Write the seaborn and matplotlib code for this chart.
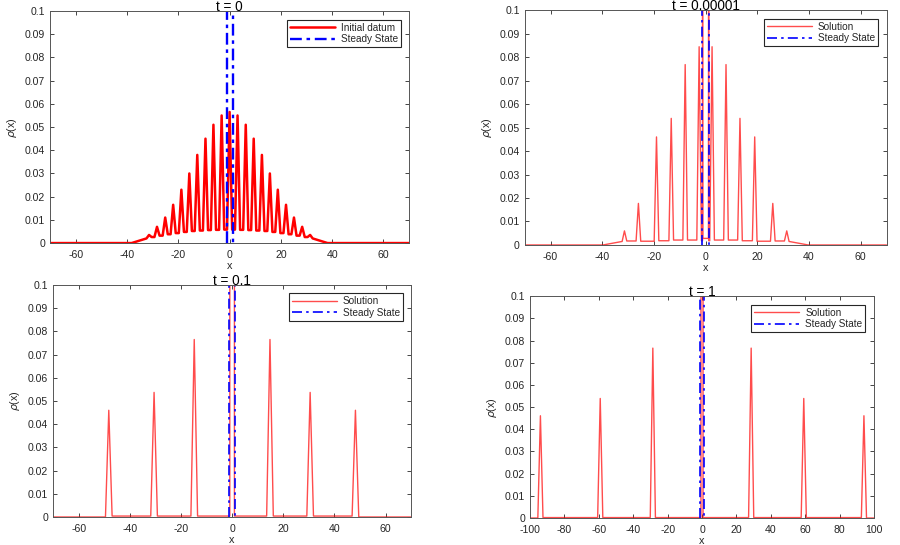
import matplotlib
matplotlib.use("Agg")
import matplotlib.pyplot as plt
import matplotlib.ticker as ticker
import seaborn as sns

sns.set_theme(style="ticks")
plt.rcParams["font.family"] = ["Liberation Sans", "DejaVu Sans"]
plt.rcParams["axes.unicode_minus"] = False

# ---- t = 0 : initial datum (peak centres, peak heights, level of the valleys between peaks)
init_peak_x = [-31.4, -28.3, -25.1, -22.0, -18.8, -15.7, -12.6, -9.4, -6.3, -3.1, 0.0,
               3.1, 6.3, 9.4, 12.6, 15.7, 18.8, 22.0, 25.1, 28.3, 31.4]
init_peak_y = [0.0035, 0.007, 0.011, 0.0165, 0.023, 0.030, 0.038, 0.045, 0.051, 0.055, 0.0565,
               0.055, 0.051, 0.045, 0.038, 0.030, 0.023, 0.0165, 0.011, 0.007, 0.0035]
init_valley_y = [0.0026, 0.0032, 0.0038, 0.0043, 0.0048, 0.0052, 0.0054, 0.0056, 0.0057, 0.0058,
                 0.0058, 0.0057, 0.0056, 0.0054, 0.0052, 0.0048, 0.0043, 0.0038, 0.0032, 0.0026]
init_edge_y = 0.0020
init_tail_x = 38.2

# ---- t = 0.00001
sol1_peak_x = [-31.4, -26.0, -19.0, -13.3, -7.9, -2.5, 2.5, 7.9, 13.3, 19.0, 26.0, 31.4]
sol1_peak_y = [0.006, 0.0177, 0.046, 0.0539, 0.0768, 0.0844,
               0.0844, 0.0768, 0.0539, 0.046, 0.0177, 0.006]
sol1_valley_y = [0.0017, 0.0016, 0.0018, 0.0021, 0.0021, 0.0018,
                 0.0021, 0.0021, 0.0018, 0.0016, 0.0017]
sol1_edge_y = 0.0015
sol1_tail_x = 39.7
sol1_mid_x = [-1.2, -1.2, -1.1, 1.1, 1.2, 1.2]
sol1_mid_y = [0.0018, 0.3, 0.0028, 0.0028, 0.3, 0.0018]

# ---- t = 0.1
sol2_peak_x = [-48.2, -30.5, -14.8, 14.8, 30.5, 48.2]
sol2_peak_y = [0.046, 0.0537, 0.0765, 0.0765, 0.0537, 0.046]
sol2_valley_y = [0.0004, 0.0004, 0.0004, 0.0004, 0.0004]
sol2_mid_x = [-0.9, -0.9, 0.9, 0.9]
sol2_mid_y = [0.0004, 0.3, 0.3, 0.0004]

# ---- t = 1
sol3_peak_x = [-94.0, -59.2, -28.6, 28.6, 59.2, 94.2]
sol3_peak_y = [0.0461, 0.0539, 0.0766, 0.0766, 0.0539, 0.0461]
sol3_valley_y = [0.0002, 0.0002, 0.0002, 0.0002, 0.0002]
sol3_mid_x = [-0.6, -0.6, 0.6, 0.6]
sol3_mid_y = [0.0002, 0.3, 0.3, 0.0002]

# steady state (box of height off the chart)
ss_x = [-1.2, -1.2, 1.2, 1.2]
ss_y = [0.0, 0.5, 0.5, 0.0]

titles = ["t = 0", "t = 0.00001", "t = 0.1", "t = 1"]
y_ticks = [0, 0.01, 0.02, 0.03, 0.04, 0.05, 0.06, 0.07, 0.08, 0.09, 0.1]


def build_curve(xlim, peak_x, peak_y, valley_y, half_w, edge_y=0.0, tail_x=None,
                mid_x=None, mid_y=None):
    if tail_x is None:
        tail_x = max(abs(peak_x[0]), abs(peak_x[-1])) + half_w
    xs = [xlim[0], -tail_x, peak_x[0] - half_w]
    ys = [0.0, 0.0, edge_y]
    for i in range(len(peak_x)):
        xs.append(peak_x[i])
        ys.append(peak_y[i])
        if i < len(peak_x) - 1:
            xs.append(peak_x[i] + half_w)
            ys.append(valley_y[i])
            if mid_x is not None and peak_x[i] < 0 < peak_x[i + 1]:
                xs += mid_x
                ys += mid_y
            xs.append(peak_x[i + 1] - half_w)
            ys.append(valley_y[i])
    xs += [peak_x[-1] + half_w, tail_x, xlim[1]]
    ys += [edge_y, 0.0, 0.0]
    return xs, ys


fig = plt.figure(figsize=(9, 5.45), dpi=100)
positions = [
    [0.0556, 0.554, 0.399, 0.4257],
    [0.583, 0.5505, 0.402, 0.431],
    [0.0589, 0.0514, 0.398, 0.4257],
    [0.589, 0.0495, 0.382, 0.407],
]
xlims = [(-70, 70), (-70, 70), (-70, 70), (-100, 100)]

curves = [
    build_curve(xlims[0], init_peak_x, init_peak_y, init_valley_y, 1.0,
                init_edge_y, init_tail_x),
    build_curve(xlims[1], sol1_peak_x, sol1_peak_y, sol1_valley_y, 0.9,
                sol1_edge_y, sol1_tail_x, sol1_mid_x, sol1_mid_y),
    build_curve(xlims[2], sol2_peak_x, sol2_peak_y, sol2_valley_y, 1.3,
                mid_x=sol2_mid_x, mid_y=sol2_mid_y),
    build_curve(xlims[3], sol3_peak_x, sol3_peak_y, sol3_valley_y, 1.5,
                mid_x=sol3_mid_x, mid_y=sol3_mid_y),
]

dark = "#262626"
for k in range(4):
    ax = fig.add_axes(positions[k])
    xs, ys = curves[k]
    if k == 0:
        sns.lineplot(x=xs, y=ys, sort=False, estimator=None, ax=ax, color="red",
                     lw=1.8, solid_joinstyle="round", label="Initial datum")
        sns.lineplot(x=ss_x, y=ss_y, sort=False, estimator=None, ax=ax, color="blue",
                     lw=1.7, linestyle=(0, (5, 2, 1.5, 2)), label="Steady State")
    else:
        sns.lineplot(x=xs, y=ys, sort=False, estimator=None, ax=ax, color="red",
                     alpha=0.7, lw=1.0, solid_joinstyle="round", label="Solution")
        sns.lineplot(x=ss_x, y=ss_y, sort=False, estimator=None, ax=ax, color="blue",
                     lw=1.2, linestyle=(0, (6, 2.5, 1.5, 2.5)), label="Steady State")

    ax.set_xlim(*xlims[k])
    ax.set_ylim(0, 0.1)
    ax.xaxis.set_major_locator(ticker.MultipleLocator(20))
    ax.set_yticks(y_ticks)
    ax.yaxis.set_major_formatter(ticker.FormatStrFormatter("%g"))
    ax.tick_params(direction="in", top=True, right=True, length=3, width=0.6,
                   labelsize=7.6, colors=dark)
    ax.tick_params(axis="x", pad=5.0)
    ax.tick_params(axis="y", pad=3.5)
    for sp in ax.spines.values():
        sp.set_visible(True)
        sp.set_color("#555555")
        sp.set_linewidth(0.7)
    ax.set_title(titles[k], fontsize=9.8, pad=0, color="black")
    ax.set_xlabel("x", fontsize=7.8, color=dark, labelpad=1)
    ax.set_ylabel(r"$\rho$(x)", fontsize=7.8, color=dark, labelpad=4)

    leg = ax.legend(loc="upper right", fontsize=7.2, frameon=True, fancybox=False,
                    edgecolor=dark, framealpha=1, handlelength=4.5,
                    borderaxespad=0.85, labelspacing=0.15, borderpad=0.3,
                    handletextpad=0.6)
    leg.get_frame().set_linewidth(0.8)

fig.savefig("out.png", dpi=100)
